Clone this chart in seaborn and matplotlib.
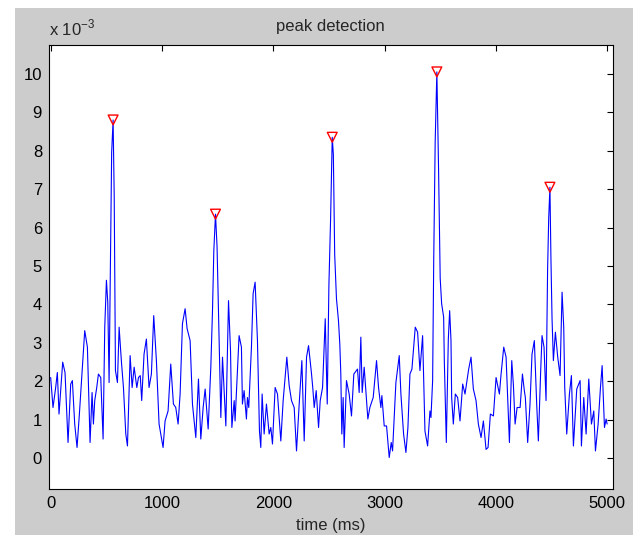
import matplotlib
matplotlib.use("Agg")
import matplotlib.pyplot as plt
from matplotlib.patches import Rectangle
import seaborn as sns
import pandas as pd

# signal (time in ms, value in units of 1e-3)
time_ms = [0, 21, 45, 60, 75, 108, 129, 156, 180, 195, 216, 237, 258, 279, 306, 330,
           354, 372, 384, 396, 414, 429, 450, 471, 486, 501, 513, 525, 538, 548, 561,
           571, 582, 600, 615, 636, 654, 675, 690, 714, 732, 750, 774, 789,
           805, 818, 839, 860, 884, 905, 926, 950, 974, 1010, 1028, 1055, 1079, 1103,
           1124, 1145, 1163, 1184, 1208, 1226, 1253, 1274, 1304, 1328, 1349, 1370,
           1388, 1415, 1439, 1454, 1466, 1481, 1495, 1508, 1529, 1544, 1574, 1598,
           1616, 1628, 1649, 1657, 1693, 1714, 1723, 1738, 1759, 1768, 1780, 1804,
           1819, 1837, 1858, 1876, 1888, 1900, 1918, 1939, 1963, 1978, 1993, 2017,
           2038, 2068, 2089, 2122, 2143, 2164, 2188, 2209, 2233, 2257, 2278, 2299,
           2317, 2344, 2356, 2368, 2386, 2407, 2422, 2443, 2467, 2485, 2500, 2515,
           2530, 2540, 2552, 2568, 2586, 2598, 2607, 2616, 2628, 2637, 2658, 2682,
           2703, 2724, 2757, 2772, 2787, 2799, 2817, 2850, 2868, 2898, 2928, 2946,
           2967, 2976, 2997, 3018, 3042, 3060, 3072, 3102, 3132, 3147, 3171, 3192,
           3210, 3228, 3246, 3276, 3297, 3318, 3342, 3363, 3387, 3408, 3417, 3432,
           3442, 3455, 3470, 3485, 3500, 3513, 3531, 3537, 3555, 3573, 3585, 3597,
           3603, 3618, 3636, 3657, 3678, 3702, 3723, 3756, 3777, 3798, 3822, 3843,
           3867, 3888, 3912, 3930, 3951, 3978, 4002, 4032, 4047, 4071, 4092, 4122,
           4143, 4158, 4173, 4191, 4218, 4239, 4256, 4265, 4286, 4307, 4325, 4346,
           4367, 4382, 4403, 4415, 4433, 4451, 4465, 4475, 4486, 4495, 4505, 4517,
           4535, 4556, 4577, 4595, 4610, 4619, 4637, 4661, 4679, 4697, 4727, 4757,
           4769, 4790, 4811, 4835, 4859, 4880, 4895, 4919, 4940, 4955, 4976, 4991, 5000]
signal = [2.10, 1.32, 1.84, 2.23, 1.15, 2.50, 2.23, 0.41, 1.93, 2.02, 0.89, 0.28, 1.15, 2.10, 3.32, 2.89,
          0.41, 1.71, 0.89, 1.50, 1.84, 2.19, 2.10, 0.50, 3.41, 4.63, 4.06, 1.97, 5.40, 7.95, 8.80,
          6.80, 2.28, 1.97, 3.41, 2.50, 1.84, 0.63, 0.32, 2.67, 1.84, 2.37, 1.84, 2.10,
          2.15, 1.50, 2.71, 3.10, 1.84, 2.19, 3.71, 2.54, 0.89, 0.28, 0.97, 1.23, 2.45, 1.41,
          1.32, 0.89, 1.67, 3.50, 3.89, 3.37, 3.06, 1.41, 0.54, 2.06, 0.50, 1.32,
          1.80, 0.76, 2.37, 3.84, 5.40, 6.35, 5.50, 3.76, 1.06, 2.63, 0.84, 4.10,
          2.80, 0.80, 1.50, 0.97, 3.19, 2.89, 1.41, 1.76, 1.02, 1.58, 1.32, 2.89,
          4.28, 4.58, 3.06, 0.71, 0.28, 1.67, 0.63, 1.41, 0.63, 0.80, 0.37, 1.84,
          1.67, 0.45, 1.50, 2.63, 1.89, 1.50, 1.32, 0.19, 1.41, 2.54, 0.45, 2.63,
          2.93, 2.19, 1.80, 1.32, 1.76, 0.80, 1.50, 1.84, 3.63, 1.41, 4.50, 6.20,
          8.35, 7.90, 5.30, 4.15, 3.58, 2.97, 2.19, 0.63, 1.58, 0.28, 2.02, 1.67,
          1.10, 2.19, 2.32, 1.71, 3.15, 1.71, 2.37, 1.02, 1.32, 1.58, 2.54, 1.84,
          1.32, 1.63, 0.84, 0.84, 0.02, 0.41, 0.19, 1.97, 2.67, 1.67, 0.63, 0.15,
          0.80, 2.19, 2.32, 3.41, 3.28, 2.28, 3.19, 0.71, 0.32, 1.23, 1.06, 2.02,
          5.20, 8.24, 10.05, 7.58, 4.68, 4.02, 3.67, 2.54, 0.41, 3.10, 3.84, 3.06,
          1.58, 0.89, 1.67, 1.58, 0.97, 1.93, 1.67, 2.32, 2.63, 1.80, 1.50, 0.89,
          0.54, 0.97, 0.23, 0.28, 1.15, 1.10, 2.10, 1.67, 2.19, 2.89, 2.63, 0.41,
          2.54, 1.89, 0.89, 1.32, 1.32, 2.19, 1.76, 1.58, 0.41, 1.41, 2.71, 3.06,
          1.41, 0.45, 2.28, 3.19, 2.89, 1.50, 4.90, 6.25, 7.05, 5.20, 3.63, 2.54,
          3.28, 2.63, 2.15, 4.32, 3.41, 1.84, 0.63, 1.67, 2.15, 0.32, 1.80, 2.02,
          0.32, 1.58, 0.63, 2.06, 0.89, 1.23, 0.19, 0.89, 1.84, 2.41, 0.80, 1.02, 0.89]

# detected peaks
peak_time = [561, 1481, 2530, 3470, 4486]
peak_value = [8.80, 6.35, 8.35, 10.05, 7.05]

sig = pd.DataFrame({"t": time_ms, "v": signal})
peaks = pd.DataFrame({"t": peak_time, "v": peak_value})

sns.set_style("white")
plt.rcParams["font.family"] = ["Liberation Sans", "DejaVu Sans"]
plt.rcParams["font.size"] = 12
plt.rcParams["mathtext.fontset"] = "custom"
plt.rcParams["mathtext.rm"] = "Liberation Sans"

fig = plt.figure(figsize=(6.33, 5.35), dpi=100, facecolor="white")
# grey MATLAB-like figure background (white strip at left and top)
fig.patches.append(Rectangle((15 / 633, 0), 1, 1 - 8 / 535, transform=fig.transFigure,
                             facecolor="#cccccc", edgecolor="none", zorder=-10))
ax = fig.add_axes([49 / 633, 1 - 489 / 535, (612.7 - 49) / 633, (489 - 45) / 535])
ax.set_facecolor("white")

sns.lineplot(data=sig, x="t", y="v", ax=ax, color="blue", linewidth=0.8, sort=False,
             estimator=None)
sns.scatterplot(data=peaks, x="t", y="v", ax=ax, marker="v", s=50, facecolor="none",
                edgecolor="red", linewidth=1.0, zorder=5)

ax.set_xlim(-15, 5050)
ax.set_ylim(-0.8, 10.75)
ax.set_xticks(range(0, 5001, 1000))
ax.set_yticks(range(0, 11))
ax.tick_params(direction="in", top=True, right=True, length=4, width=0.8,
               labelsize=12, colors="black", pad=5)
for s in ax.spines.values():
    s.set_color("black")
    s.set_linewidth(0.8)

ax.set_xlabel("time (ms)", fontsize=12, labelpad=5)
ax.set_ylabel("")
ax.set_title("peak detection", fontsize=12, pad=10)
ax.text(0.0, 1.015, r"x 10$^{-3}$", transform=ax.transAxes, fontsize=12, ha="left",
        va="bottom")

fig.savefig("out.png", dpi=100, facecolor=fig.get_facecolor())
